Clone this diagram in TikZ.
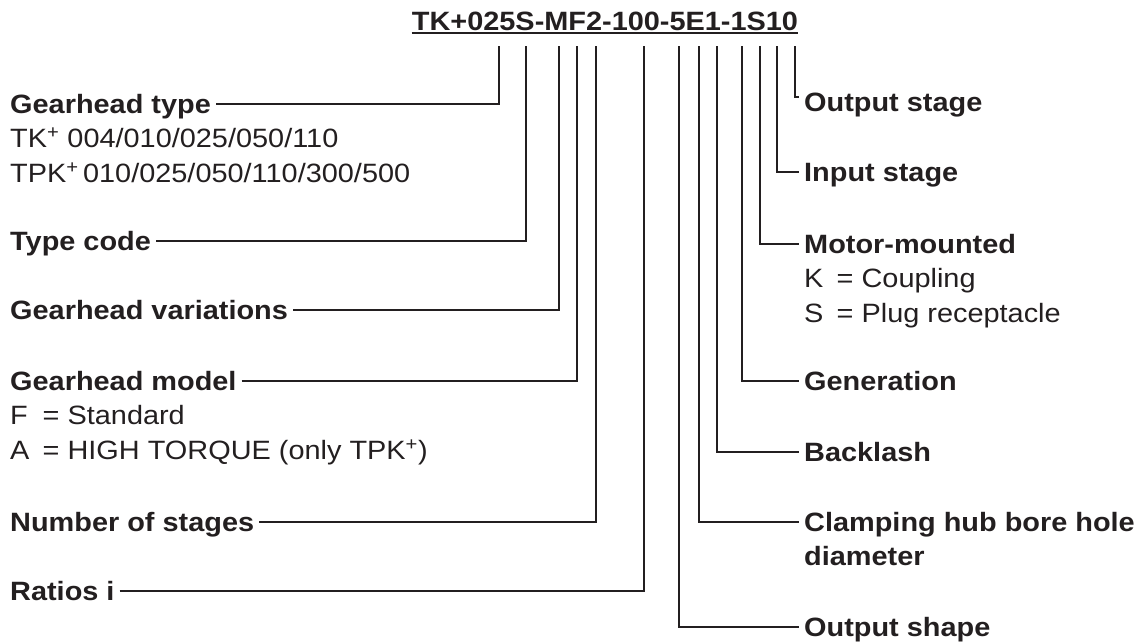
\documentclass[tikz,border=0pt]{standalone}
\usepackage{fontspec}
\setmainfont{Liberation Sans}[FakeStretch=1.09]
\usetikzlibrary{positioning}
\definecolor{ink}{RGB}{35,31,32}

\begin{document}
\begin{tikzpicture}[x=1pt,y=-1pt,
  head/.style={font=\fontsize{26.5}{30}\selectfont\bfseries,text=ink,anchor=west,
    inner xsep=5pt,inner ysep=0pt,text height=19pt,text depth=0pt},
  note/.style={head,font=\fontsize{26.5}{30}\selectfont},
  wire/.style={draw=ink,line width=2pt}]
  \useasboundingbox (0,0) rectangle (1143,643);
  \node[head,anchor=base,inner sep=0pt] (code) at (605,30) {TK+025S-MF2-100-5E1-1S10};
  \draw[wire] ([yshift=-3pt]code.base west) -- ([yshift=-3pt]code.base east);

  \coordinate (ctype) at (499,46);
  \coordinate (ccode) at (526,46);
  \coordinate (cvar) at (559,46);
  \coordinate (cmodel) at (577,46);
  \coordinate (cstages) at (596,46);
  \coordinate (cratio) at (644,46);
  \coordinate (cshape) at (679,46);
  \coordinate (cbore) at (699,46);
  \coordinate (cback) at (717,46);
  \coordinate (cgen) at (742,46);
  \coordinate (cmotor) at (760,46);
  \coordinate (cin) at (777,46);
  \coordinate (cout) at (795,46);

  \node[head] (gtype) at (5,104) {Gearhead type};
  \node[note,below=15pt of gtype.south west,anchor=north west] (gtypeA) {TK\textsuperscript{+} 004/010/025/050/110};
  \node[note,below=15pt of gtypeA.south west,anchor=north west] (gtypeB) {TPK\textsuperscript{+}\,010/025/050/110/300/500};
  \node[head] (tcode) at (5,241) {Type code};
  \node[head] (gvar) at (5,310) {Gearhead variations};
  \node[head] (gmodel) at (5,381) {Gearhead model};
  \node[note,below=15pt of gmodel.south west,anchor=north west] (gmodelF) {\rlap{F}\hphantom{A}\enspace= Standard};
  \node[note,below=15pt of gmodelF.south west,anchor=north west] (gmodelA) {A\enspace= HIGH TORQUE (only TPK\textsuperscript{+})};
  \node[head] (nstages) at (5,522) {Number of stages};
  \node[head] (ratio) at (5,591) {Ratios i};

  \node[head] (outst) at (799,102) {Output stage};
  \node[head] (inst) at (799,172) {Input stage};
  \node[head] (motor) at (799,244) {Motor-mounted};
  \node[note,below=15pt of motor.south west,anchor=north west] (motorK) {K\enspace= Coupling};
  \node[note,below=15pt of motorK.south west,anchor=north west] (motorS) {S\enspace= Plug receptacle};
  \node[head] (gen) at (799,381) {Generation};
  \node[head] (back) at (799,452) {Backlash};
  \node[head] (bore) at (799,522) {Clamping hub bore hole};
  \node[head,below=15pt of bore.south west,anchor=north west] (boreB) {diameter};
  \node[head] (shape) at (799,627) {Output shape};

  \draw[wire] (gtype.east) -| (ctype);
  \draw[wire] (tcode.east) -| (ccode);
  \draw[wire] (gvar.east) -| (cvar);
  \draw[wire] (gmodel.east) -| (cmodel);
  \draw[wire] (nstages.east) -| (cstages);
  \draw[wire] (ratio.east) -| (cratio);

  \draw[wire] (cout) |- ([yshift=5pt]outst.west);
  \draw[wire] (cin) |- (inst.west);
  \draw[wire] (cmotor) |- (motor.west);
  \draw[wire] (cgen) |- (gen.west);
  \draw[wire] (cback) |- (back.west);
  \draw[wire] (cbore) |- (bore.west);
  \draw[wire] (cshape) |- (shape.west);
\end{tikzpicture}
\end{document}
